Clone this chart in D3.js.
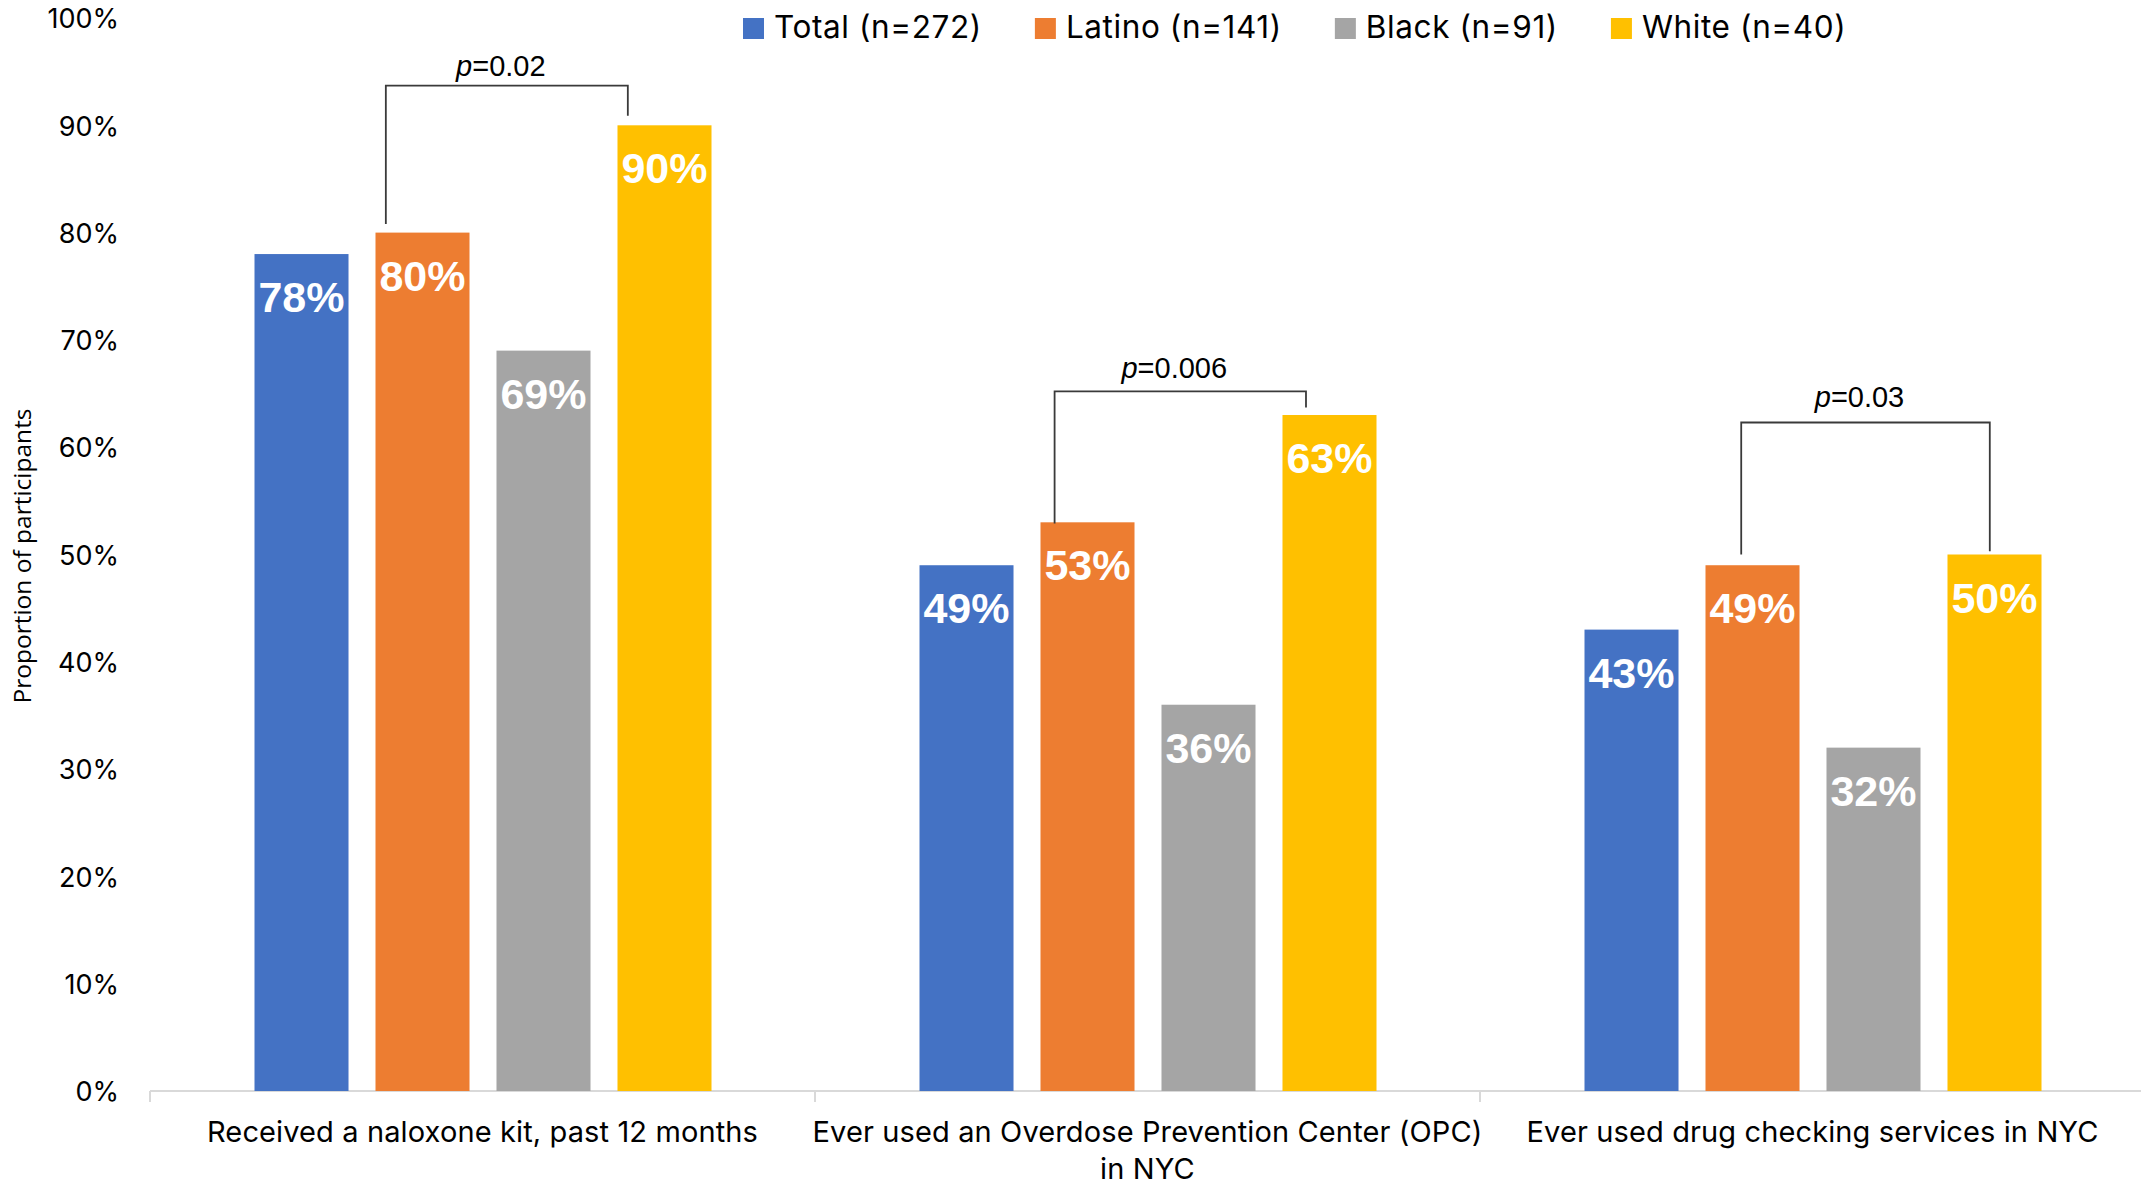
<!DOCTYPE html>
<html>
<head>
<meta charset="utf-8">
<script src="https://cdn.jsdelivr.net/npm/d3@7"></script>
<style>
  html, body { margin: 0; padding: 0; background: #fff; }
  svg { display: block; }
</style>
</head>
<body>
<svg id="chart" width="2141" height="1185"></svg>
<script>
// ---------- data ----------
const categories = [
  "Received a naloxone kit, past 12 months",
  "Ever used an Overdose Prevention Center (OPC)\nin NYC",
  "Ever used drug checking services in NYC"
];
const series = ["Total (n=272)", "Latino (n=141)", "Black (n=91)", "White (n=40)"];
const totalValues  = [78, 49, 43];
const latinoValues = [80, 53, 49];
const blackValues  = [69, 36, 32];
const whiteValues  = [90, 63, 50];
const yTickValues  = [0, 10, 20, 30, 40, 50, 60, 70, 80, 90, 100];
const yAxisTitle   = "Proportion of participants";

// significance brackets (Latino vs White) — p-values and bracket heights in % units
const pValues         = ["0.02", "0.006", "0.03"];
const bracketTop      = [93.7, 65.2, 62.3];
const bracketLeftEnd  = [80.8, 52.9, 50.0];
const bracketRightEnd = [90.9, 63.7, 50.3];

// ---------- styling / layout ----------
const colors = ["#4472C4", "#ED7D31", "#A5A5A5", "#FFC000"];
const bracketLeftFrac  = [0.11, 0.15, 0.38];
const bracketRightFrac = [0.11, 0.25, 0.45];
const W = 2141, H = 1185;
const textFont = "Inter, 'Open Sans', 'Liberation Sans', sans-serif";

const valuesBySeries = [totalValues, latinoValues, blackValues, whiteValues];
const rows = [];
categories.forEach((c, ci) => {
  series.forEach((s, si) => rows.push({cat: c, ci, s, si, v: valuesBySeries[si][ci]}));
});

const svg = d3.select("#chart");

const x0 = d3.scaleBand().domain(categories).range([150, 2145]).padding(0);
const x1 = d3.scaleBand().domain(series).range([104.5, 561.5]).paddingInner(0.223);
const y  = d3.scaleLinear().domain([0, 100]).range([1091, 18]);
const color = d3.scaleOrdinal().domain(series).range(colors);

// ---------- y axis ----------
const yAxis = svg.append("g")
  .attr("transform", "translate(150,0)")
  .call(d3.axisLeft(y).tickValues(yTickValues).tickFormat(d => d + "%").tickSize(0).tickPadding(31));
yAxis.select(".domain").remove();
yAxis.selectAll("text")
  .attr("font-family", textFont)
  .attr("font-size", 27)
  .attr("fill", "#000")
  .attr("dy", "0.36em");

svg.append("text")
  .attr("transform", `translate(31,556) rotate(-90)`)
  .attr("text-anchor", "middle")
  .attr("font-family", "'Open Sans', 'Noto Sans', sans-serif")
  .attr("font-size", 24.5)
  .attr("fill", "#000")
  .text(yAxisTitle);

// ---------- x axis ----------
const xAxisG = svg.append("g").attr("transform", `translate(0,${y(0)})`);
xAxisG.append("line")
  .attr("x1", x0.range()[0]).attr("x2", W)
  .attr("y1", 0).attr("y2", 0)
  .attr("stroke", "#d9d9d9").attr("stroke-width", 2);
xAxisG.selectAll(".bound")
  .data(categories)
  .join("line")
  .attr("x1", d => x0(d)).attr("x2", d => x0(d))
  .attr("y1", 0).attr("y2", 11)
  .attr("stroke", "#d9d9d9").attr("stroke-width", 2);

const catLabels = svg.append("g").selectAll("text")
  .data(categories)
  .join("text")
  .attr("text-anchor", "middle")
  .attr("font-family", textFont)
  .attr("font-size", 29)
  .attr("letter-spacing", 0.12)
  .attr("fill", "#000");
catLabels.each(function(d) {
  const lines = d.split("\n");
  const t = d3.select(this);
  lines.forEach((ln, i) => {
    t.append("tspan")
      .attr("x", x0(d) + x0.bandwidth() / 2)
      .attr("y", 1142 + i * 37)
      .text(ln);
  });
});

// ---------- bars ----------
svg.append("g").selectAll("rect")
  .data(rows)
  .join("rect")
  .attr("x", d => x0(d.cat) + x1(d.s))
  .attr("y", d => y(d.v))
  .attr("width", x1.bandwidth())
  .attr("height", d => y(0) - y(d.v))
  .attr("fill", d => color(d.s));

svg.append("g").selectAll("text")
  .data(rows)
  .join("text")
  .attr("x", d => x0(d.cat) + x1(d.s) + x1.bandwidth() / 2)
  .attr("y", d => y(d.v) + 58)
  .attr("text-anchor", "middle")
  .attr("font-family", "'Liberation Sans', Arial, sans-serif")
  .attr("font-weight", "bold")
  .attr("font-size", 43)
  .attr("fill", "#fff")
  .text(d => d.v + "%");

// ---------- significance brackets ----------
const bg = svg.append("g");
categories.forEach((c, i) => {
  const xl = x0(c) + x1(series[1]) + x1.bandwidth() * bracketLeftFrac[i];
  const xr = x0(c) + x1(series[3]) + x1.bandwidth() * bracketRightFrac[i];
  const yt = y(bracketTop[i]);
  bg.append("path")
    .attr("d", `M${xl},${y(bracketLeftEnd[i])}V${yt}H${xr}V${y(bracketRightEnd[i])}`)
    .attr("fill", "none")
    .attr("stroke", "#3a3a3a")
    .attr("stroke-width", 1.8);
  const t = bg.append("text")
    .attr("x", (xl + xr) / 2 - 6)
    .attr("y", yt - 10 - i * 3)
    .attr("text-anchor", "middle")
    .attr("font-family", "'Liberation Sans', Arial, sans-serif")
    .attr("font-size", 29)
    .attr("fill", "#000");
  t.append("tspan").attr("font-style", "italic").text("p");
  t.append("tspan").text("=" + pValues[i]);
});

// ---------- legend ----------
const legend = svg.append("g");
let lx = 743;
series.forEach((s, i) => {
  legend.append("rect")
    .attr("x", lx).attr("y", 18)
    .attr("width", 21).attr("height", 21)
    .attr("fill", color(s));
  const t = legend.append("text")
    .attr("x", lx + 31).attr("y", 38)
    .attr("font-family", textFont)
    .attr("font-size", 31.5)
    .attr("letter-spacing", 0.6)
    .attr("fill", "#000")
    .text(s);
  lx += 31 + t.node().getComputedTextLength() + 53;
});
</script>
</body>
</html>
